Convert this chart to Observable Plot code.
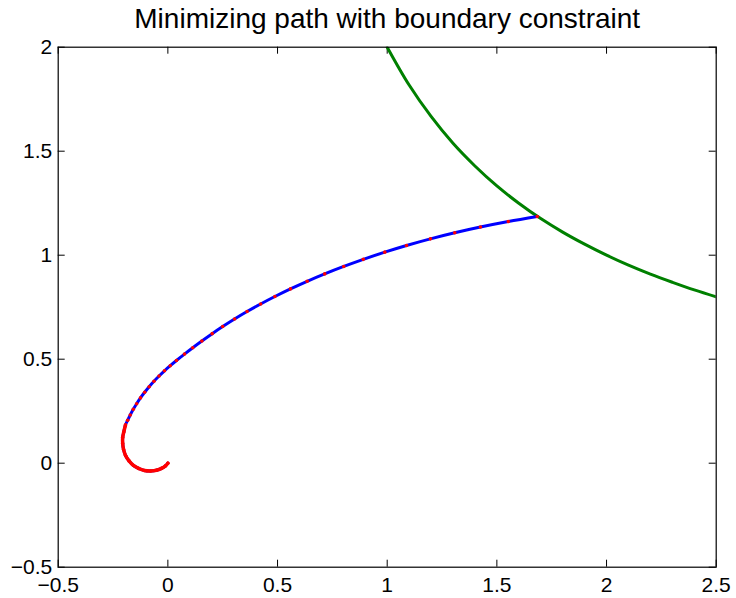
<!DOCTYPE html>
<html>
<head>
<meta charset="utf-8">
<script src="https://cdn.jsdelivr.net/npm/d3@7"></script>
<script src="https://cdn.jsdelivr.net/npm/@observablehq/plot@0.6"></script>
<style>
  html, body { margin: 0; padding: 0; background: #fff; }
</style>
</head>
<body>
<div id="chart"></div>
<script>
const title = "Minimizing path with boundary constraint";

// Axis ticks and their labels
const xTicks = [-0.5, 0, 0.5, 1, 1.5, 2, 2.5];
const xTickLabels = ["\u22120.5", "0", "0.5", "1", "1.5", "2", "2.5"];
const yTicks = [-0.5, 0, 0.5, 1, 1.5, 2];
const yTickLabels = ["\u22120.5", "0", "0.5", "1", "1.5", "2"];

// Boundary curve (constraint x·y = 2)
const boundaryX = [1.0, 1.1, 1.2, 1.3, 1.4, 1.5, 1.6, 1.7, 1.8, 1.9, 2.0, 2.1, 2.2, 2.3, 2.4, 2.5];
const boundaryY = [2.0, 1.818, 1.667, 1.538, 1.429, 1.333, 1.25, 1.176, 1.111, 1.053, 1.0, 0.952, 0.909, 0.870, 0.833, 0.8];

// Start of the path: tightly sampled hook near the origin
const hookX = [0, -0.011, -0.029, -0.052, -0.079, -0.107, -0.134, -0.157, -0.177, -0.193, -0.202, -0.206, -0.206, -0.201];
const hookY = [0, -0.013, -0.025, -0.034, -0.0375, -0.035, -0.025, -0.011, 0.011, 0.037, 0.066, 0.095, 0.124, 0.150];

// Remaining sample points of the path up to the boundary
const sampleX = [-0.1933, -0.1833, -0.1715, -0.1578, -0.1423, -0.1249, -0.1058, -0.0853, -0.0634, -0.0401,
  -0.0155, 0.0109, 0.0392, 0.0757, 0.1135, 0.155, 0.202, 0.250, 0.304, 0.361, 0.423, 0.488, 0.559, 0.635,
  0.715, 0.802, 0.891, 0.989, 1.088, 1.197, 1.308, 1.425, 1.552, 1.684];
const sampleY = [0.1837, 0.2065, 0.2320, 0.2591, 0.2861, 0.3139, 0.3409, 0.3678, 0.3940, 0.4192,
  0.4442, 0.4688, 0.4938, 0.5245, 0.5551, 0.5875, 0.6228, 0.6569, 0.6931, 0.7290, 0.7656, 0.8014, 0.8380, 0.8745,
  0.9101, 0.9460, 0.9801, 1.0147, 1.0467, 1.0786, 1.1078, 1.1353, 1.1618, 1.1862];

const boundary = boundaryX.map((x, i) => ({x, y: boundaryY[i]}));
const hook = hookX.map((x, i) => ({x, y: hookY[i]}));
const samples = sampleX.map((x, i) => ({x, y: sampleY[i]}));
const path = hook.concat(samples);

const W = 736, H = 598;
const mL = 57.7, mR = 20.3, mT = 46.7, mB = 31.3;
const frameW = W - mL - mR, frameH = H - mT - mB;
const tick = 7;

const chart = Plot.plot({
  width: W,
  height: H,
  marginLeft: mL,
  marginRight: mR,
  marginTop: mT,
  marginBottom: mB,
  x: {domain: [-0.5, 2.5]},
  y: {domain: [-0.5, 2]},
  style: {
    fontFamily: "'Liberation Sans', Arial, Helvetica, sans-serif",
    fontSize: "21px",
    color: "#000",
    background: "#fff"
  },
  marks: [
    Plot.axisX(xTicks, {tickSize: 0, tickPadding: 10, tickFormat: (d, i) => xTickLabels[i], label: null, fontSize: 21}),
    Plot.axisY(yTicks, {tickSize: 0, tickPadding: 6, tickFormat: (d, i) => yTickLabels[i], label: null, fontSize: 21}),
    // inward ticks on all four sides
    Plot.ruleX(xTicks, {insetTop: frameH - tick, stroke: "#000", strokeWidth: 1}),
    Plot.ruleX(xTicks, {insetBottom: frameH - tick, stroke: "#000", strokeWidth: 1}),
    Plot.ruleY(yTicks, {insetRight: frameW - tick, stroke: "#000", strokeWidth: 1}),
    Plot.ruleY(yTicks, {insetLeft: frameW - tick, stroke: "#000", strokeWidth: 1}),
    Plot.line(boundary, {x: "x", y: "y", stroke: "#008000", strokeWidth: 3, curve: "catmull-rom", clip: true}),
    Plot.line(path, {x: "x", y: "y", stroke: "#0000ff", strokeWidth: 3, curve: "catmull-rom"}),
    Plot.line(hook.concat([samples[0]]), {x: "x", y: "y", stroke: "#ff0000", strokeWidth: 3.5, curve: "catmull-rom", strokeLinecap: "round"}),
    Plot.dot(path, {x: "x", y: "y", r: 1.8, fill: "#ff0000", stroke: null}),
    Plot.frame({stroke: "#000", strokeWidth: 1.2}),
    Plot.text([title], {frameAnchor: "top", lineAnchor: "bottom", dy: -19, fontSize: 28, fill: "#000"})
  ]
});

document.getElementById("chart").appendChild(chart);
</script>
</body>
</html>
